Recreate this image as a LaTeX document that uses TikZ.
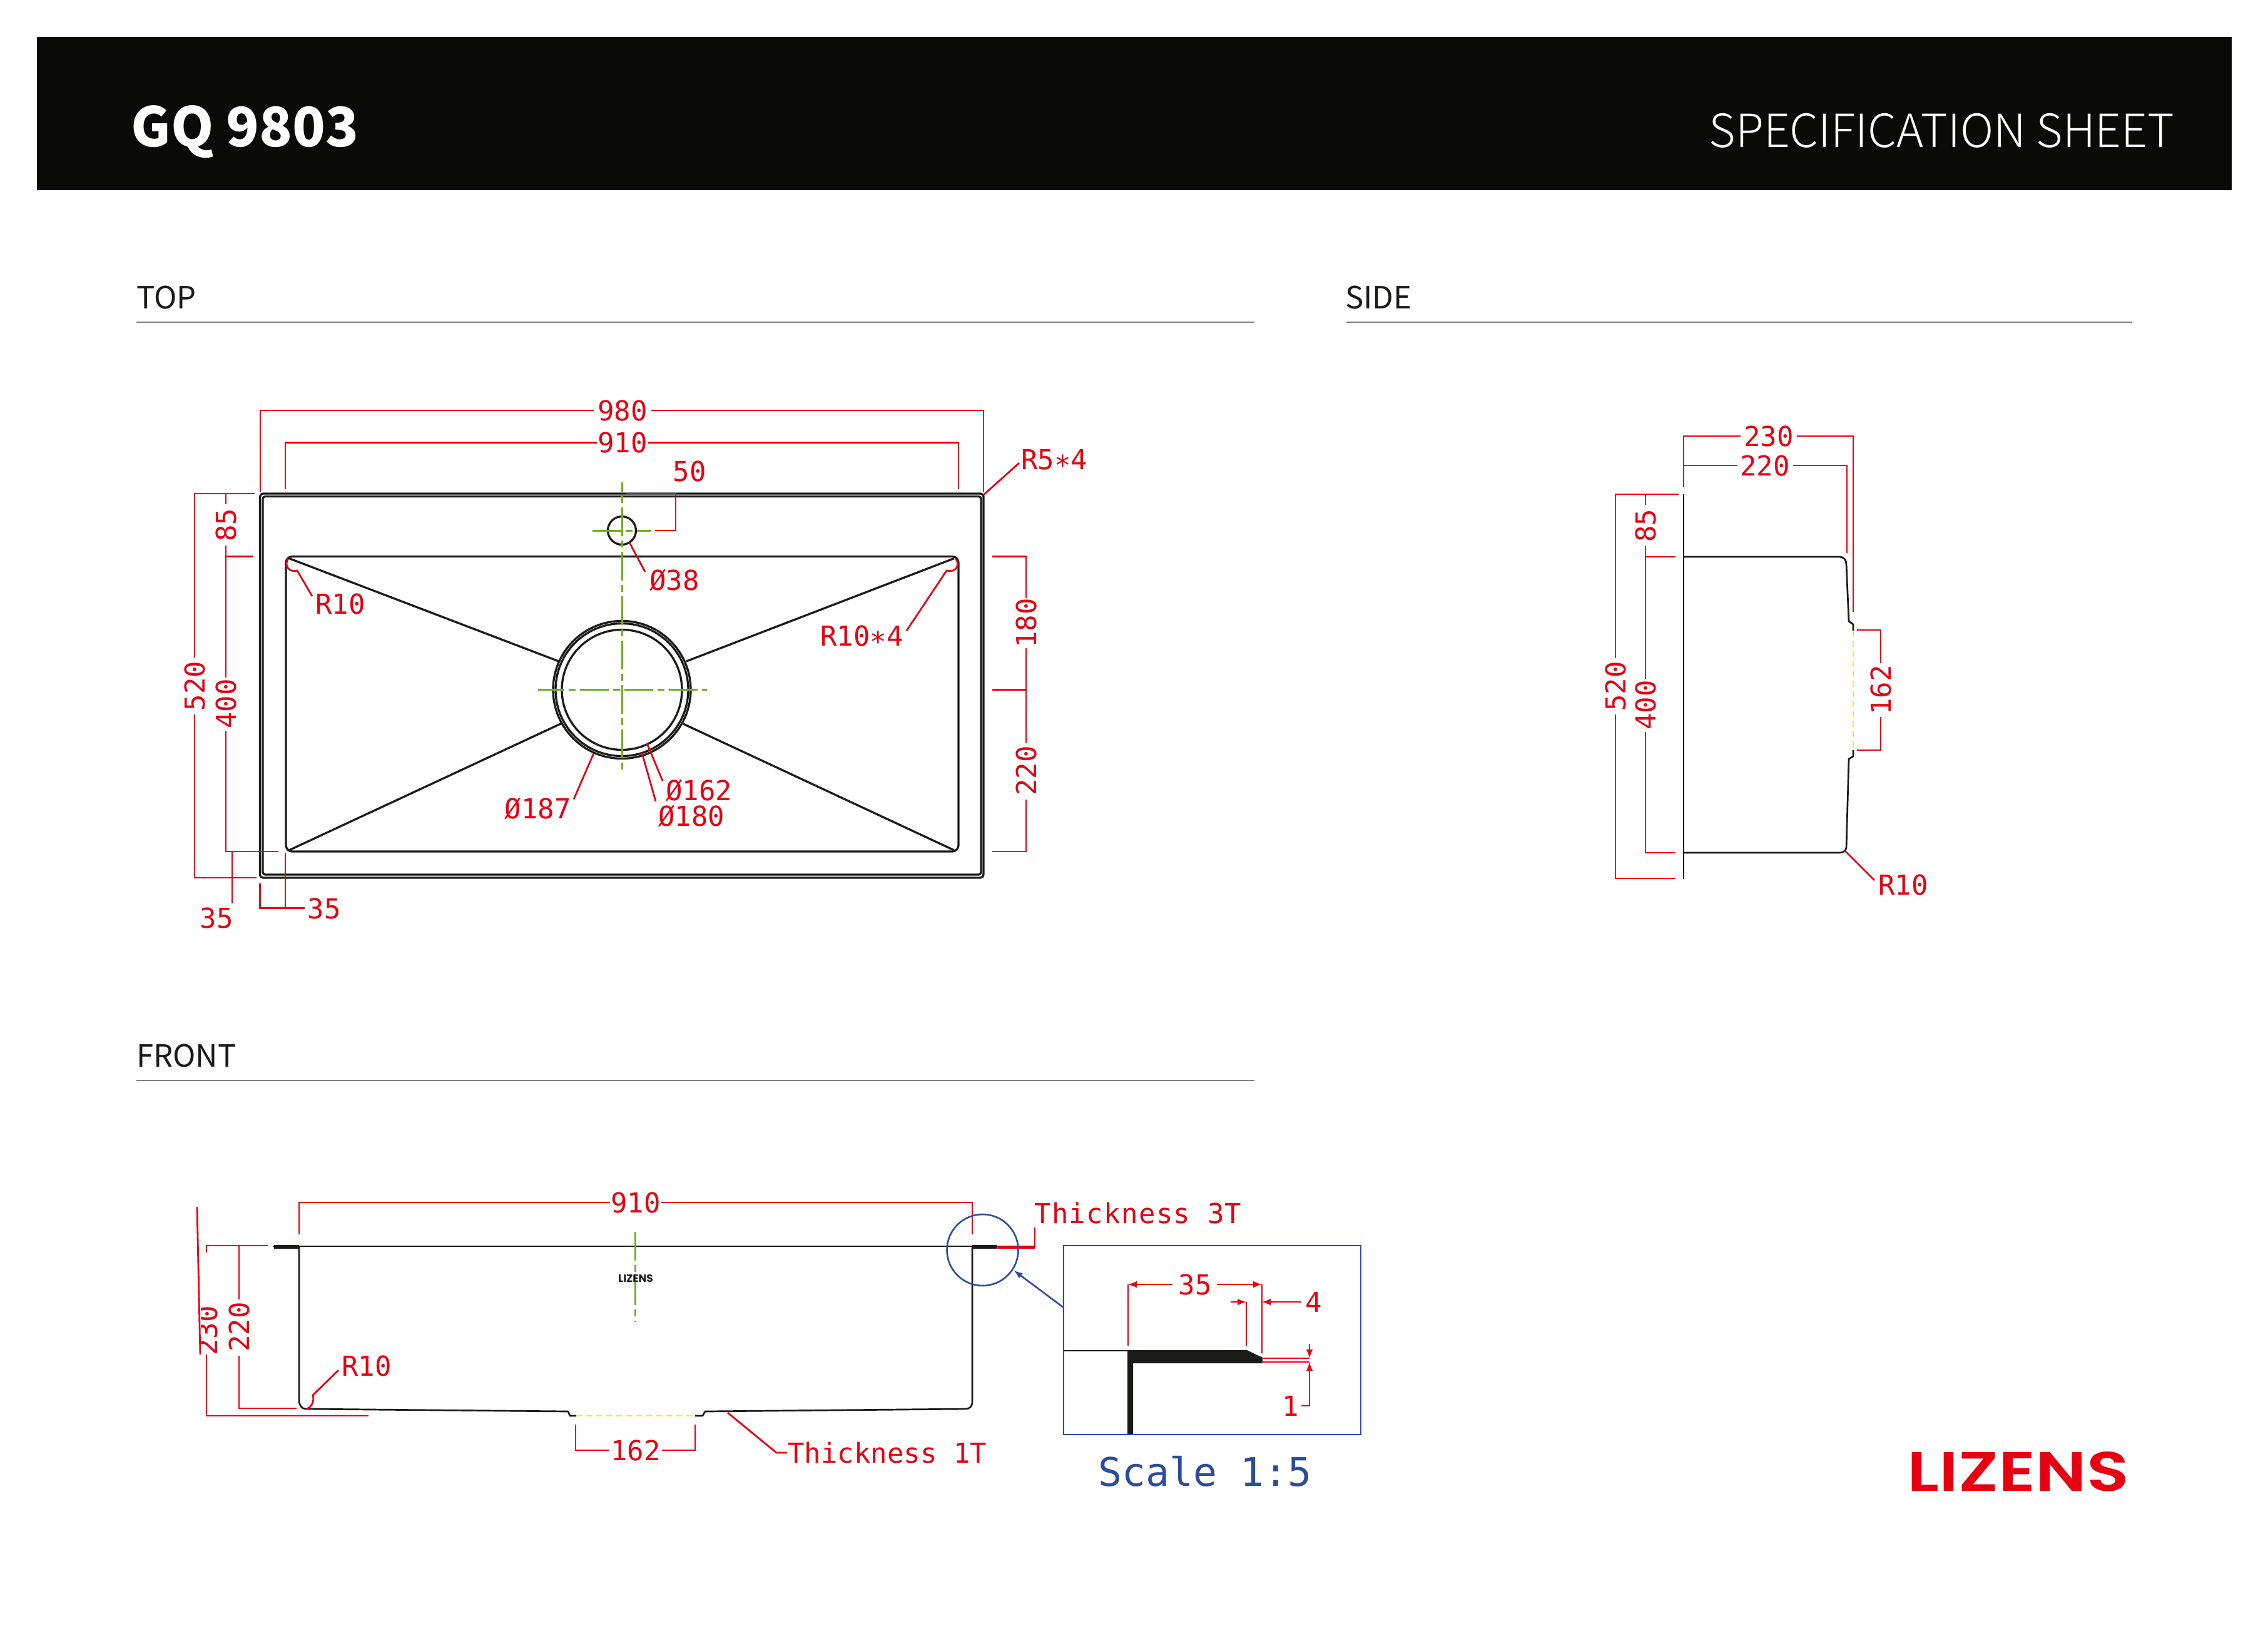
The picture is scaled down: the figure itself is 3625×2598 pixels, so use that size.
\documentclass[tikz,border=0pt]{standalone}
\usepackage{fontspec}
\usepackage{graphicx}
\setmainfont{Noto Sans CJK SC}
\newfontfamily\dimfont{DejaVu Sans Mono}
\newfontfamily\logofont{Poppins SemiBold}
\newfontfamily\stampfont{Poppins}
\newfontfamily\headfont{Noto Sans CJK SC Light}
\newcommand{\dimstar}{\raisebox{-.2em}{*}}
\definecolor{dimred}{HTML}{E60012}
\definecolor{axisgreen}{HTML}{6FB01E}
\definecolor{detailblue}{HTML}{2B4C9B}
\definecolor{cutyellow}{HTML}{F5E72A}
\definecolor{sinkblack}{HTML}{1A1A18}
\definecolor{bandblack}{HTML}{0A0A08}
\tikzset{
	sink/.style={draw=sinkblack, line width=1.65pt, line join=round},
	sinkthin/.style={draw=sinkblack, line width=1.35pt, line join=round},
	dim/.style={draw=dimred, line width=1.4pt},
	axis/.style={draw=axisgreen, line width=1.5pt, dash pattern=on 23pt off 3.5pt on 5.5pt off 3.5pt},
	cut/.style={draw=cutyellow, line width=1.4pt, dash pattern=on 5pt off 3pt},
	detail/.style={draw=detailblue, line width=1.3pt},
	dimtext/.style={text=dimred, inner sep=0, font=\dimfont\fontsize{22}{22}\selectfont},
	sectiontext/.style={anchor=base west, inner sep=0, text=sinkblack, font=\fontsize{24.5}{24.5}\selectfont},
	sectionrule/.style={draw=gray, line width=.75pt},
}
\begin{document}
\begin{tikzpicture}[x=0.5pt, y=-0.5pt]
	\useasboundingbox (0,0) rectangle (3625,2598);

	% header band
	\fill[bandblack] (59,59) rectangle (3567,304);
	\node[anchor=base west, inner sep=0, text=white, font=\bfseries\fontsize{43.5}{43.5}\selectfont] (model) at (209,234) {GQ 9803};
	\node[anchor=base east, inner sep=0, text=white, font=\headfont\fontsize{36.6}{36.6}\selectfont] (sheet) at (3476,235) {SPECIFICATION SHEET};

	% section titles
	\node[sectiontext] (top) at (218,493) {TOP};
	\node[sectiontext] (side) at (2150,493) {SIDE};
	\node[sectiontext] (front) at (218,1705) {FRONT};
	\draw[sectionrule] (218,515) -- (2005,515);
	\draw[sectionrule] (2152,515) -- (3408,515);
	\draw[sectionrule] (218,1727) -- (2005,1727);

	% top view
	\draw[sink, rounded corners=2.5pt] (415.5,789) rectangle (1572,1403);
	\draw[sink, rounded corners=2pt] (420,793.5) rectangle (1568,1398);
	\draw[sink, rounded corners=5pt] (457,889.5) rectangle (1532,1361);
	\draw[sink] (994,1102.5) circle[radius=110];
	\draw[sink] (994,1102.5) circle[radius=106];
	\draw[sink] (994,1102.5) circle[radius=96];
	\draw[sink] (994,848) circle[radius=22.5];
	\draw[sink] (462,892.5) -- (893,1057) (1525,892.5) -- (1097,1057);
	\draw[sink] (462,1359) -- (898,1156) (1525,1359) -- (1092,1157);
	\draw[axis, dash phase=15.5pt] (994,771) -- (994,1237);
	\draw[axis, dash phase=2pt] (860,1102.5) -- (1130,1102.5);
	\draw[axis] (947,848) -- (1041,848);

	\draw[dim] (416,786) -- (416,656) -- (949,656) (1041,656) -- (1572,656) -- (1572,786);
	\node[dimtext] (w980) at (995,656) {980};
	\draw[dim] (456,782) -- (456,707.5) -- (954,707.5) (1036,707.5) -- (1532,707.5) -- (1532,782);
	\node[dimtext] (w910) at (995,707.5) {910};
	\draw[dim] (1572,791) -- (1629,740);
	\node[dimtext, anchor=west] (r54) at (1632,739) {R5\dimstar4};
	\draw[dim] (1001,789) -- (1080,789) -- (1080,848) -- (1047,848);
	\node[dimtext] (d50) at (1102,753) {50};
	\draw[dim] (1006,867) -- (1031,914);
	\node[dimtext, anchor=west] (d38) at (1038,927) {Ø38};
	\draw[dim] (461,892.5) .. controls (453,903) and (462,916) .. (475,912) -- (499,953);
	\node[dimtext, anchor=west] (r10a) at (504,965) {R10};
	\draw[dim] (1527,892.5) .. controls (1536,903) and (1527,916) .. (1513,912) -- (1449,1008);
	\node[dimtext, anchor=east] (r10b) at (1444,1021) {R10\dimstar4};
	\draw[dim] (949,1204) -- (917,1277.5);
	\node[dimtext, anchor=east] (d187) at (913,1292) {Ø187};
	\draw[dim] (1034,1188) -- (1059,1248);
	\node[dimtext, anchor=west] (d162) at (1064,1263) {Ø162};
	\draw[dim] (1026,1203) -- (1048,1281);
	\node[dimtext, anchor=west] (d180) at (1052,1304) {Ø180};

	\draw[dim] (407,789) -- (311,789) -- (311,1051) (311,1142) -- (311,1403) -- (410,1403);
	\node[dimtext, rotate=90] (h520) at (311,1096.5) {520};
	\draw[dim] (361,789) -- (361,806) (361,872) -- (361,1082.5) (361,1168) -- (361,1361) -- (445,1361);
	\draw[dim] (361,889.5) -- (405,889.5);
	\node[dimtext, rotate=90] (h85) at (361,839) {85};
	\node[dimtext, rotate=90] (h400) at (361,1125) {400};
	\draw[dim] (371,1361) -- (371,1444);
	\node[dimtext] (e35a) at (346,1467) {35};
	\draw[dim] (415.5,1412) -- (415.5,1451.5) -- (487,1451.5) (456,1364) -- (456,1451.5);
	\node[dimtext] (e35b) at (518,1452) {35};
	\draw[dim] (1586,889.5) -- (1640,889.5) -- (1640,956) (1640,1036) -- (1640,1188) (1640,1277.5) -- (1640,1361) -- (1586,1361);
	\draw[dim] (1586,1102.5) -- (1640,1102.5);
	\node[dimtext, rotate=90] (r180) at (1640,996) {180};
	\node[dimtext, rotate=90] (r220) at (1640,1232) {220};

	% side view
	\draw[sinkthin] (2691,790) -- (2691,1405);
	\draw[sinkthin] (2691,890) -- (2940,890) .. controls (2947,890) and (2951,895) .. (2951,902) -- (2955,993) -- (2962,998) -- (2962,1008);
	\draw[sinkthin] (2962,1199) -- (2962,1209) -- (2955,1213) -- (2951,1355) .. controls (2950,1360) and (2946,1363) .. (2940,1363) -- (2691,1363);
	\draw[cut] (2962,1008) -- (2962,1199);

	\draw[dim] (2691,778) -- (2691,697) -- (2782,697) (2872,697) -- (2962,697) -- (2962,978);
	\node[dimtext] (s230) at (2827,697) {230};
	\draw[dim] (2691,744) -- (2777,744) (2866,744) -- (2952,744) -- (2952,884);
	\node[dimtext] (s220) at (2821,744) {220};
	\draw[dim] (2683,790) -- (2582,790) -- (2582,1052) (2582,1142) -- (2582,1404) -- (2678,1404);
	\node[dimtext, rotate=90] (s520) at (2582,1097) {520};
	\draw[dim] (2630,790) -- (2630,807) (2630,873) -- (2630,1085) (2630,1170) -- (2630,1363) -- (2678,1363);
	\draw[dim] (2630,890) -- (2678,890);
	\node[dimtext, rotate=90] (s85) at (2630,840) {85};
	\node[dimtext, rotate=90] (s400) at (2630,1127) {400};
	\draw[dim] (2968,1007) -- (3006,1007) -- (3006,1060) (3006,1146) -- (3006,1199) -- (2968,1199);
	\node[dimtext, rotate=90] (s162) at (3006,1103) {162};
	\draw[dim] (2949,1360) -- (2996,1407);
	\node[dimtext, anchor=west] (sr10) at (3002,1414) {R10};

	% front view
	\draw[sinkthin] (436,1992) -- (1595,1992);
	\draw[sink, line width=3pt] (438,1993) -- (478,1993) (1554,1993) -- (1593,1993);
	\draw[sinkthin] (478,1992) -- (478,2238) .. controls (478,2246) and (482,2252) .. (489,2252) -- (908,2256) -- (911,2263) -- (921,2263);
	\draw[sinkthin] (1111,2263) -- (1123,2263) -- (1127,2256) -- (1543,2252) .. controls (1550,2252) and (1554,2248) .. (1554,2240) -- (1554,1992);
	\draw[cut] (921,2263) -- (1111,2263);
	\draw[axis] (1015,1969) -- (1015,2113);
	\node[inner sep=0, text=sinkblack, font=\stampfont\bfseries\fontsize{8.5}{8.5}\selectfont] (stamp) at (1016,2043) {LIZENS};

	\draw[dim] (478,1973) -- (478,1922) -- (975,1922) (1057,1922) -- (1554,1922) -- (1554,1973);
	\node[dimtext] (f910) at (1016,1922) {910};
	\draw[dim] (330,2002) -- (330,1991) -- (428,1991) (382,1991) -- (382,2077) (382,2167) -- (382,2251) -- (474,2251);
	\node[dimtext, rotate=90] (f220) at (382,2121) {220};
	\draw[dim] (330,2165) -- (330,2263) -- (589,2263);
	\begin{scope}
		\clip (321,2060) rectangle (360,2190);
		\node[dimtext, rotate=90] (f230) at (331,2127) {230};
	\end{scope}
	\draw[dim] (315,1929) -- (320,2165);
	\draw[dim] (490,2252) .. controls (498,2249) and (503,2240) .. (500,2230) -- (541,2190);
	\node[dimtext, anchor=west] (fr10) at (546,2183) {R10};
	\draw[dim] (920,2277) -- (920,2318) -- (973,2318) (1058,2318) -- (1111,2318) -- (1111,2277);
	\node[dimtext] (f162) at (1016,2318) {162};
	\draw[dim] (1163,2258) -- (1241,2322) -- (1258,2322);
	\node[dimtext, anchor=west] (thin) at (1259,2322) {Thickness 1T};
	\draw[dim, line width=2.5pt] (1594,1993) -- (1654,1993);
	\draw[dim] (1654,1993) -- (1654,1962);
	\node[dimtext, anchor=west] (thick) at (1653,1939) {\addfontfeature{LetterSpace=3}Thickness 3T};

	% detail, scale 1:5
	\draw[detail] (1570.5,1998) circle[radius=57];
	\draw[detail] (1700,1991) rectangle (2175,2293);
	\draw[detail, -latex] (1700,2090) -- (1621,2031);
	\draw[sink, line width=.9pt] (1700,2159) -- (1802,2159);
	\fill[sinkblack] (1802,2158) -- (1993,2158) -- (2018,2170) -- (2018,2179) -- (1811,2179) -- (1811,2292) -- (1802,2292) -- cycle;
	\draw[dim] (1803,2151) -- (1803,2053) (2017,2163) -- (2017,2053) (1992,2151) -- (1992,2081);
	\draw[dim, -latex] (1874,2053) -- (1803,2053);
	\draw[dim, -latex] (1945,2053) -- (2017,2053);
	\node[dimtext] (k35) at (1910,2053) {35};
	\draw[dim, -latex] (1967,2081) -- (1992,2081);
	\draw[dim, -latex] (2080,2081) -- (2017,2081);
	\node[dimtext] (k4) at (2100,2081) {4};
	\draw[dim, line width=1.2pt] (2019,2171) -- (2093,2171) (2019,2177) -- (2093,2177);
	\draw[dim, -latex] (2093,2148) -- (2093,2171);
	\draw[dim, -latex] (2080,2247) -- (2093,2247) -- (2093,2177);
	\node[dimtext] (k1) at (2063,2247) {1};
	\node[inner sep=0, text=detailblue, font=\dimfont\fontsize{31.5}{31.5}\selectfont] (scale) at (1926,2352) {Scale 1:5};

	% logo
	\node[inner sep=0, text=dimred, font=\logofont\fontsize{44.5}{44.5}\selectfont] (logo) at (3226,2352) {\scalebox{1.25}[1]{LIZENS}};
\end{tikzpicture}
\end{document}
